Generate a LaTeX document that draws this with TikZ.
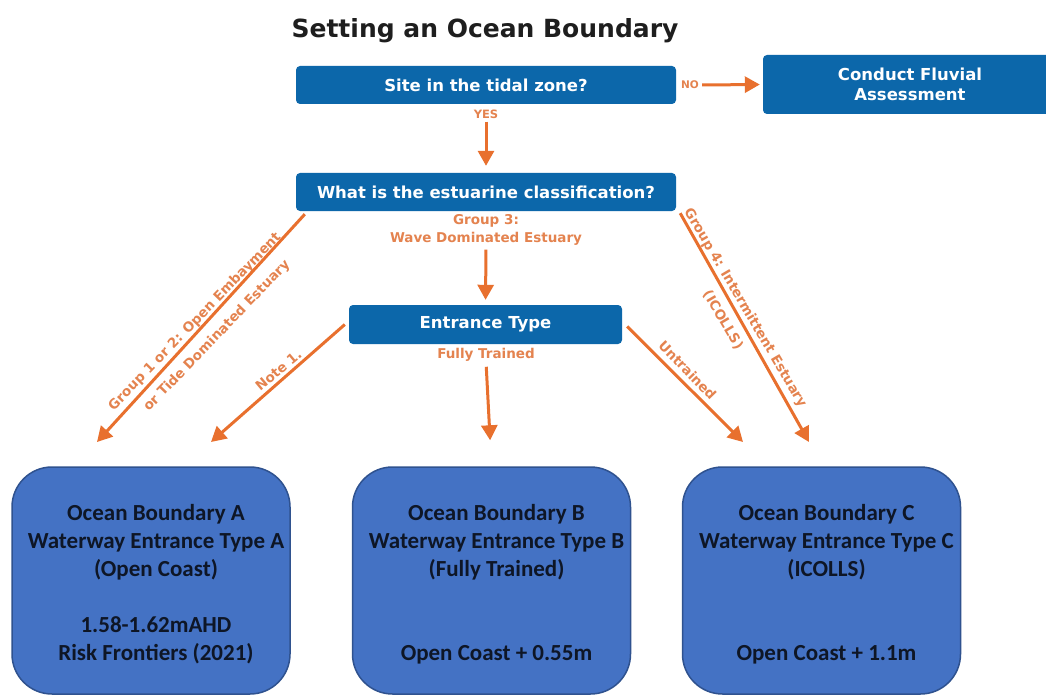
\documentclass[tikz,border=0pt]{standalone}
\usepackage{fontspec}
\newfontfamily\vfont{DejaVu Sans}
\newfontfamily\cfont{Carlito}
\usetikzlibrary{arrows.meta}
\definecolor{flowblue}{HTML}{0C67AA}
\definecolor{arrorange}{HTML}{E8702E}
\definecolor{lblorange}{HTML}{E4834F}
\definecolor{obfill}{HTML}{4472C4}
\definecolor{obdraw}{HTML}{2F528F}
\definecolor{obtext}{HTML}{0E1626}
\definecolor{titlecol}{HTML}{1E1E1E}
\newcommand{\sh}{\hspace*{10pt}}
\begin{document}
\begin{tikzpicture}[x=1pt,y=-1pt,
  flowbox/.style={fill=flowblue, rounded corners=4pt, text=white, font=\vfont\bfseries\fontsize{16.5}{19}\selectfont, inner sep=0pt, align=center},
  obox/.style={fill=obfill, draw=obdraw, line width=1.5pt, rounded corners=40pt, minimum width=278pt, minimum height=227pt, text=obtext, font=\cfont\bfseries\fontsize{23}{28}\selectfont, align=center, inner sep=0pt},
  flow/.style={draw=arrorange, line width=3pt, -{Triangle[length=15pt,width=16pt]}},
  lbl/.style={text=lblorange, font=\vfont\bfseries\fontsize{13.5}{18}\selectfont, inner sep=0pt, align=center},
]
\useasboundingbox (0,0) rectangle (1046,695);
\fill[white] (0,0) rectangle (1046,695);

\node[text=titlecol, font=\vfont\bfseries\fontsize{25}{28}\selectfont] (title) at (485,31) {Setting an Ocean Boundary};

\node[flowbox, minimum width=380pt, minimum height=38pt] (b1) at (486,85) {Site in the tidal zone?};
\node[flowbox, minimum width=294pt, minimum height=59pt, font=\vfont\bfseries\fontsize{16.5}{20}\selectfont] (b2) at (910,84.5) {Conduct Fluvial\\Assessment};
\node[flowbox, minimum width=380pt, minimum height=38pt] (b3) at (486,192) {What is the estuarine classification?};
\node[flowbox, minimum width=273pt, minimum height=39pt] (b4) at (485.5,324.5) {Entrance Type};

\node[obox] (oa) at (151,580.5) {\sh\rule{0pt}{24pt}Ocean Boundary A\\\sh Waterway Entrance Type A\\\sh(Open Coast)\\[28pt]\sh 1.58-1.62mAHD\\\sh Risk Frontiers (2021)};
\node[obox] (ob) at (491.5,580.5) {\sh\rule{0pt}{24pt}Ocean Boundary B\\\sh Waterway Entrance Type B\\\sh(Fully Trained)\\[56pt]\sh Open Coast + 0.55m};
\node[obox] (oc) at (821.5,580.5) {\sh\rule{0pt}{24pt}Ocean Boundary C\\\sh Waterway Entrance Type C\\\sh(ICOLLS)\\[56pt]\sh Open Coast + 1.1m};

% labels
\node[lbl, font=\vfont\bfseries\fontsize{10.5}{12}\selectfont] (no) at (690,85) {NO};
\node[lbl, font=\vfont\bfseries\fontsize{11.5}{12}\selectfont] (yes) at (486,114) {YES};
\node[lbl] (g3) at (486,230) {Group 3:\\Wave Dominated Estuary};
\node[lbl] (ft) at (486,355) {Fully Trained};
\node[lbl, rotate=46] (g12a) at (195,322) {Group 1 or 2: Open Embayment};
\node[lbl, rotate=46] (g12b) at (217,336) {or Tide Dominated Estuary};
\node[lbl, rotate=40] (n1) at (278.5,370) {Note 1.};
\node[lbl, rotate=-46] (un) at (687.5,370) {Untrained};
\node[lbl, rotate=-59.5] (g4a) at (745,308) {Group 4: Intermittent Estuary};
\node[lbl, rotate=-59.5] (g4b) at (723,320) {(ICOLLS)};

% end points
\coordinate (eA1) at (97,442);
\coordinate (eA2) at (211,442);
\coordinate (eC1) at (743,442);
\coordinate (eC2) at (809,442);

% connectors
\draw[flow, shorten <=3pt, shorten >=3pt] (no.east) -- (b2.west);
\draw[flow, shorten <=3pt, shorten >=7pt] (yes.south) -- (b3.north);
\draw[flow, shorten <=4pt, shorten >=5pt] (g3.south) -- (b4.north);
\draw[flow, shorten <=5pt, shorten >=26pt] (ft.south) -- (ob.north);
\draw[flow] ([shift={(9,3)}]b3.south west) -- (eA1);
\draw[flow] ([xshift=-4pt]b4.west) -- (eA2);
\draw[flow] ([xshift=5pt,yshift=-2pt]b4.east) -- (eC1);
\draw[flow] ([shift={(4,2)}]b3.south east) -- (eC2);
\end{tikzpicture}
\end{document}
